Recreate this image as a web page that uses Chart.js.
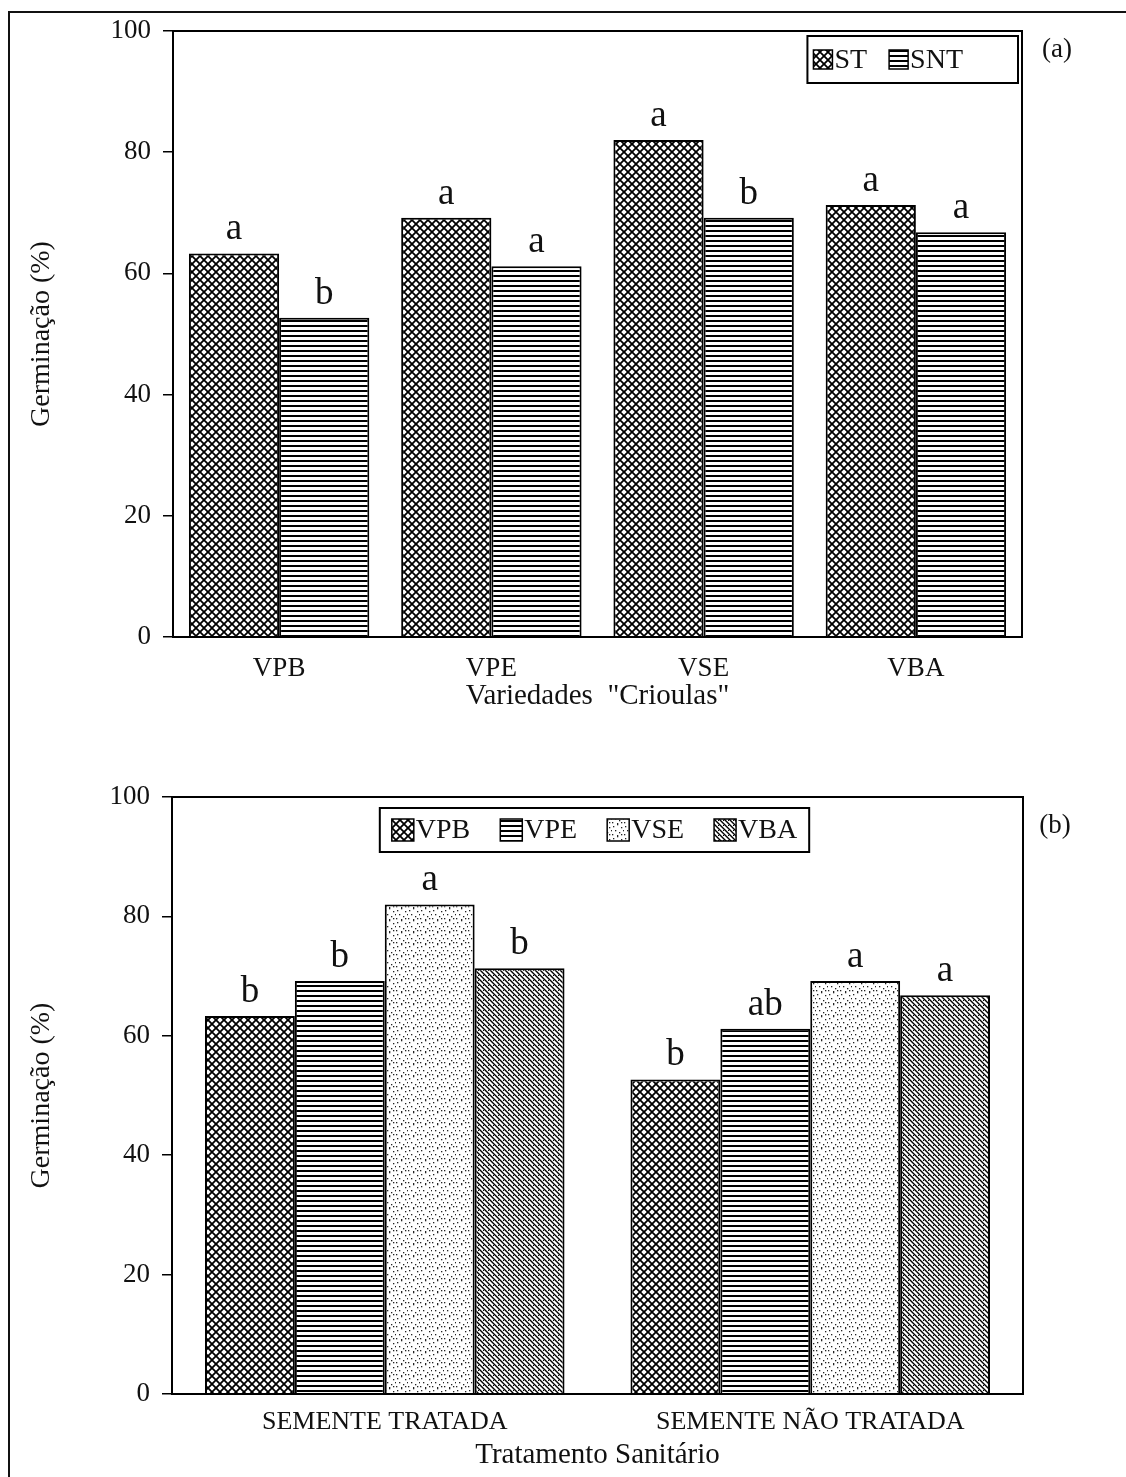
<!DOCTYPE html>
<html>
<head>
<meta charset="utf-8">
<script src="https://cdn.jsdelivr.net/npm/chart.js@4.4.0/dist/chart.umd.min.js"></script>
<style>
  html, body { margin: 0; padding: 0; background: #fff; }
  #page { position: relative; width: 1126px; height: 1477px; overflow: hidden; }
  #frame { position: absolute; left: 8px; top: 11px; width: 1300px; height: 1600px;
           border-left: 2px solid #111; border-top: 2px solid #111; }
  #boxA { position: absolute; left: 0; top: 0; }
  #boxB { position: absolute; left: 0; top: 740px; }
</style>
</head>
<body>
<div id="page">
  <div id="frame"></div>
  <div id="boxA"><canvas id="chartA" width="1126" height="740"></canvas></div>
  <div id="boxB"><canvas id="chartB" width="1126" height="737"></canvas></div>
</div>
<script>
// ---- data ----
const varieties = ['VPB', 'VPE', 'VSE', 'VBA'];
const treatments = ['SEMENTE TRATADA', 'SEMENTE NÃO TRATADA'];
const seriesNames = ['ST', 'SNT'];
const germST = [63.3, 69.2, 82, 71.3];
const germSNT = [52.7, 61.2, 69.2, 66.8];
const yTicks = [0, 20, 40, 60, 80, 100];

// letras de significancia
const lettersST = ['a', 'a', 'a', 'a'];
const lettersSNT = ['b', 'a', 'b', 'a'];
const lettersVPB = ['b', 'b'];
const lettersVPE = ['b', 'ab'];
const lettersVSE = ['a', 'a'];
const lettersVBA = ['b', 'a'];

Chart.defaults.font.family = "'Liberation Serif', 'DejaVu Serif', serif";
Chart.defaults.color = '#111';

/*---- hachuras ----*/
function makePattern(kind) {
    const c = document.createElement('canvas');
    const g = c.getContext('2d');
    if (kind === 'cross') {
        c.width = c.height = 8;
        g.fillStyle = '#fff'; g.fillRect(0, 0, 8, 8);
        g.strokeStyle = '#000'; g.lineWidth = 1.8;
        g.beginPath();
        g.moveTo(-1, -1); g.lineTo(9, 9);
        g.moveTo(9, -1); g.lineTo(-1, 9);
        g.stroke();
    } else if (kind === 'hlines') {
        c.width = 8; c.height = 5;
        g.fillStyle = '#fff'; g.fillRect(0, 0, 8, 5);
        g.fillStyle = '#000'; g.fillRect(0, 0, 8, 2);
    } else if (kind === 'dots') {
        c.width = c.height = 12;
        g.fillStyle = '#fff'; g.fillRect(0, 0, 12, 12);
        g.fillStyle = '#222';
        [[1, 2], [5, 0], [9, 3], [3, 6], [7, 8], [11, 6], [0, 10], [5, 11], [9, 10]]
            .forEach(p => g.fillRect(p[0], p[1], 1.3, 1.3));
    } else {
        c.width = c.height = 5;
        g.fillStyle = '#fff'; g.fillRect(0, 0, 5, 5);
        g.strokeStyle = '#000'; g.lineWidth = 1.4;
        g.beginPath();
        g.moveTo(-1, -1); g.lineTo(6, 6);
        g.moveTo(4, -1); g.lineTo(6, 1);
        g.moveTo(-1, 4); g.lineTo(1, 6);
        g.stroke();
        g.fillStyle = '#000'; g.fillRect(3, 0, 1, 1);
    }
    return g.createPattern(c, 'repeat');
}
const pCross = makePattern('cross');
const pLines = makePattern('hlines');
const pDots = makePattern('dots');
const pDiag = makePattern('diag');

/*---- plugins ----*/
const frameBox = {
    id: 'frameBox',
    afterDraw(chart) {
        const a = chart.chartArea, ctx = chart.ctx;
        ctx.save();
        ctx.strokeStyle = '#000';
        ctx.lineWidth = 2;
        ctx.strokeRect(a.left, a.top, a.right - a.left, a.bottom - a.top);
        ctx.restore();
    }
};

const barLetters = {
    id: 'barLetters',
    afterDatasetsDraw(chart) {
        const ctx = chart.ctx;
        ctx.save();
        ctx.font = "37px 'Liberation Serif', serif";
        ctx.fillStyle = '#111';
        ctx.textAlign = 'center';
        ctx.textBaseline = 'alphabetic';
        chart.data.datasets.forEach((ds, i) => {
            chart.getDatasetMeta(i).data.forEach((bar, j) => {
                ctx.fillText(ds.letters[j], bar.x, bar.y - 14);
            });
        });
        ctx.restore();
    }
};

const boxLegend = {
    id: 'boxLegend',
    afterDraw(chart, args, opts) {
        const ctx = chart.ctx, area = chart.chartArea;
        const items = chart.data.datasets;
        ctx.save();
        ctx.font = "28px 'Liberation Serif', serif";
        const sw = opts.swatch;
        const widths = items.map(it => sw + 2 + ctx.measureText(it.label).width);
        const w = widths.reduce((s, v) => s + v, 0) + opts.gap * (items.length - 1) + opts.padL + opts.padR;
        const h = opts.height;
        const x0 = opts.align === 'right'
            ? area.right - opts.inset - w
            : (area.left + area.right) / 2 - w / 2 + opts.shift;
        const y0 = area.top + opts.top;
        ctx.fillStyle = '#fff';
        ctx.fillRect(x0, y0, w, h);
        ctx.strokeStyle = '#000';
        ctx.lineWidth = 2;
        ctx.strokeRect(x0, y0, w, h);
        let x = x0 + opts.padL;
        const cy = y0 + h / 2;
        items.forEach((it, i) => {
            ctx.fillStyle = it.backgroundColor;
            ctx.fillRect(x, cy - sw / 2, sw, sw);
            ctx.lineWidth = 1.5;
            ctx.strokeRect(x, cy - sw / 2, sw, sw);
            ctx.fillStyle = '#111';
            ctx.textAlign = 'left';
            ctx.textBaseline = 'middle';
            ctx.fillText(it.label, x + sw + 2, cy + 1);
            x += widths[i] + opts.gap;
        });
        // rotulo do painel
        ctx.font = "27px 'Liberation Serif', serif";
        ctx.textAlign = 'center';
        ctx.fillText(opts.panel, area.right + opts.panelDx, area.top + opts.panelDy);
        ctx.restore();
    }
};

function scales(yWidth, xHeight, xt, titlePad) {
    return {
        x: {
            grid: { display: false },
            border: { display: false },
            ticks: { font: { size: xt.size }, padding: xt.pad, color: '#111' },
            title: { display: true, text: xt.title, font: { size: 29 }, color: '#111',
                     padding: { top: 0, bottom: titlePad } },
            afterFit(scale) { scale.height = xHeight; }
        },
        y: {
            min: 0, max: 100,
            afterBuildTicks(scale) { scale.ticks = yTicks.map(v => ({ value: v })); },
            grid: { display: true, drawOnChartArea: false, drawTicks: true, tickLength: 10,
                    color: '#000', lineWidth: 1.5 },
            border: { display: false },
            ticks: { font: { size: 27 }, padding: 12, color: '#111' },
            title: { display: true, text: 'Germinação (%)', font: { size: 28 }, color: '#111',
                     padding: { top: 5, bottom: 0 } },
            afterFit(scale) { scale.width = yWidth; }
        }
    };
}

// ---- (a) variedades ----
new Chart(document.getElementById('chartA'), {
    type: 'bar',
    data: {
        labels: varieties,
        datasets: [
            { label: seriesNames[0], data: germST, letters: lettersST,
              backgroundColor: pCross, borderColor: '#000', borderWidth: 2 },
            { label: seriesNames[1], data: germSNT, letters: lettersSNT,
              backgroundColor: pLines, borderColor: '#000', borderWidth: 2 }
        ]
    },
    options: {
        responsive: false,
        animation: false,
        categoryPercentage: 0.85,
        barPercentage: 1,
        layout: { padding: { left: 20, top: 31, right: 104, bottom: 0 } },
        plugins: {
            legend: { display: false },
            tooltip: { enabled: false },
            boxLegend: { align: 'right', inset: 4, top: 5, height: 47, swatch: 19,
                         padL: 6, padR: 55, gap: 22, shift: 0,
                         panel: '(a)', panelDx: 35, panelDy: 19 }
        },
        scales: scales(153, 103, { size: 27, pad: 8, title: 'Variedades  "Crioulas"' }, 26)
    },
    plugins: [frameBox, barLetters, boxLegend]
});

// ---- (b) tratamento sanitario ----
const varFills = [pCross, pLines, pDots, pDiag];
const varLetters = [lettersVPB, lettersVPE, lettersVSE, lettersVBA];
new Chart(document.getElementById('chartB'), {
    type: 'bar',
    data: {
        labels: treatments,
        datasets: varieties.map((v, i) => ({
            label: v,
            data: [germST[i], germSNT[i]],
            letters: varLetters[i],
            backgroundColor: varFills[i],
            borderColor: '#000',
            borderWidth: 2
        }))
    },
    options: {
        responsive: false,
        animation: false,
        categoryPercentage: 0.845,
        barPercentage: 1,
        layout: { padding: { left: 20, top: 57, right: 103, bottom: 0 } },
        plugins: {
            legend: { display: false },
            tooltip: { enabled: false },
            boxLegend: { align: 'center', inset: 0, top: 11, height: 44, swatch: 22,
                         padL: 12, padR: 12, gap: 30, shift: -3,
                         panel: '(b)', panelDx: 32, panelDy: 29 }
        },
        scales: scales(152, 83, { size: 26, pad: 5, title: 'Tratamento Sanitário' }, 4)
    },
    plugins: [frameBox, barLetters, boxLegend]
});
</script>
</body>
</html>
